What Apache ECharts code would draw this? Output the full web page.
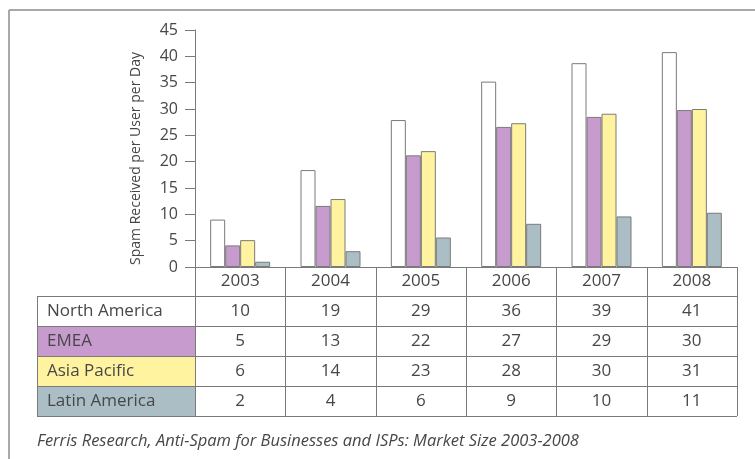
<!DOCTYPE html>
<html><head><meta charset="utf-8">
<script src="https://cdn.jsdelivr.net/npm/echarts@6/dist/echarts.min.js"></script>
<style>html,body{margin:0;padding:0;background:#fff}#c{width:755px;height:459px}</style>
</head><body><div id="c"></div>
<script>
const categories = ['2003','2004','2005','2006','2007','2008'];
const regions = ['North America','EMEA','Asia Pacific','Latin America'];
// bar heights as drawn
const northAmerica = [9, 18.4, 27.9, 35.2, 38.7, 40.8];
const emea = [4.1, 11.6, 21.2, 26.6, 28.5, 29.8];
const asiaPacific = [5.1, 12.9, 22.0, 27.3, 29.1, 30.0];
const latinAmerica = [1.0, 3.0, 5.6, 8.2, 9.6, 10.3];
// table values as printed
const tableNorthAmerica = [10, 19, 29, 36, 39, 41];
const tableEmea = [5, 13, 22, 27, 29, 30];
const tableAsiaPacific = [6, 14, 23, 28, 30, 31];
const tableLatinAmerica = [2, 4, 6, 9, 10, 11];
const yTicks = [0,5,10,15,20,25,30,35,40,45];
const yTitle = 'Spam Received per User per Day';
const caption = 'Ferris Research, Anti-Spam for Businesses and ISPs: Market Size 2003-2008';

const colors = ['#ffffff', '#c89bcf', '#fff3a0', '#abbec5'];
const textColor = '#474747';
const lineColor = '#7a7a7a';
const font = '"Open Sans", "Noto Sans", sans-serif';

const seriesData = [northAmerica, emea, asiaPacific, latinAmerica];
const tableData = [tableNorthAmerica, tableEmea, tableAsiaPacific, tableLatinAmerica];

const chart = echarts.init(document.getElementById('c'), null, {renderer: 'canvas'});
const grid = {left: 195, right: 18, top: 30, bottom: 192};
const option = {
  animation: false,
  backgroundColor: '#fff',
  grid: grid,
  xAxis: {
    type: 'category', data: categories,
    axisLine: {lineStyle: {color: lineColor, width: 1}},
    axisTick: {show: false}, axisLabel: {show: false}
  },
  yAxis: {
    type: 'value', min: yTicks[0], max: yTicks[yTicks.length-1], interval: yTicks[1]-yTicks[0],
    splitLine: {show: false},
    axisLine: {show: true, lineStyle: {color: lineColor, width: 1}},
    axisTick: {show: true, length: 10, lineStyle: {color: lineColor}},
    axisLabel: {color: textColor, fontSize: 16, fontFamily: font, margin: 17},
    name: yTitle, nameLocation: 'middle', nameGap: 52,
    nameTextStyle: {color: textColor, fontSize: 14, fontFamily: font, padding: [0, 0, 0, -20]}
  },
  series: regions.map((r, i) => ({
    name: r, type: 'bar', data: seriesData[i],
    barWidth: 15, barGap: '0%',
    itemStyle: {color: colors[i], borderColor: lineColor, borderWidth: 1}
  }))
};
chart.setOption(option);

function buildTable() {
  const g = [];
  const left = grid.left, right = 755 - grid.right;
  const axisY = 459 - grid.bottom;
  const colW = (right - left) / categories.length;
  const labelLeft = 37;
  const headerBottom = axisY + 29;
  const rowH = 30;
  const tableBottom = headerBottom + rowH * regions.length;
  const ls = {stroke: lineColor, lineWidth: 1};
  // frame
  g.push({type: 'line', shape: {x1: 9, y1: 10, x2: 755, y2: 10}, style: {stroke: '#8c8c8c', lineWidth: 1.5}});
  g.push({type: 'line', shape: {x1: 9, y1: 10, x2: 9, y2: 459}, style: {stroke: '#8c8c8c', lineWidth: 1.5}});
  // row backgrounds
  regions.forEach((r, i) => {
    const y = headerBottom + rowH * i;
    g.push({type: 'rect', shape: {x: labelLeft, y: y, width: left - labelLeft, height: rowH}, style: {fill: colors[i]}, z: 1});
    g.push({type: 'text', x: labelLeft + 10, y: y + rowH / 2, style: {text: r, fill: textColor, font: '17px ' + font, textAlign: 'left', textVerticalAlign: 'middle'}, z: 3});
  });
  // header years
  categories.forEach((c, j) => {
    const cx = chart.convertToPixel({xAxisIndex: 0}, j);
    g.push({type: 'text', x: cx, y: axisY + 14.5, style: {text: c, fill: textColor, font: '17px ' + font, textAlign: 'center', textVerticalAlign: 'middle'}, z: 3});
    tableData.forEach((row, i) => {
      const y = headerBottom + rowH * i;
      g.push({type: 'text', x: cx, y: y + rowH / 2, style: {text: String(row[j]), fill: textColor, font: '17px ' + font, textAlign: 'center', textVerticalAlign: 'middle'}, z: 3});
    });
  });
  // horizontal lines
  for (let i = 0; i <= regions.length; i++) {
    const y = Math.round(headerBottom + rowH * i) + 0.5;
    g.push({type: 'line', shape: {x1: labelLeft, y1: y, x2: right, y2: y}, style: ls, z: 2});
  }
  // vertical lines
  g.push({type: 'line', shape: {x1: labelLeft + 0.5, y1: headerBottom, x2: labelLeft + 0.5, y2: tableBottom}, style: ls, z: 2});
  for (let j = 0; j <= categories.length; j++) {
    const x = Math.round(left + colW * j) + 0.5;
    g.push({type: 'line', shape: {x1: x, y1: axisY, x2: x, y2: tableBottom}, style: ls, z: 2});
  }
  // caption
  g.push({type: 'text', x: labelLeft, y: 441, style: {text: caption, fill: textColor, font: 'italic 16.5px ' + font, textAlign: 'left', textVerticalAlign: 'middle'}, z: 3});
  chart.setOption({graphic: g});
}
buildTable();
</script></body></html>
